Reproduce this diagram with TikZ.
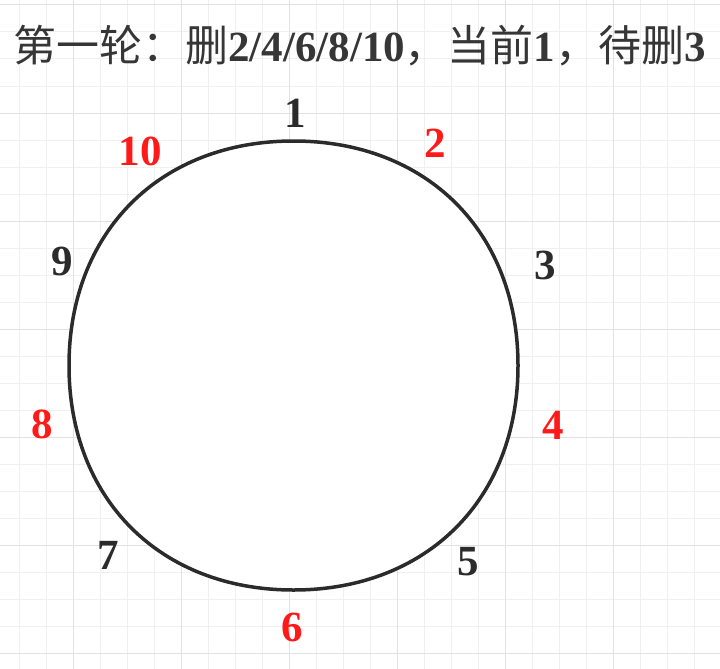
\documentclass[tikz,border=0pt]{standalone}
\usepackage{fontspec}
\setmainfont{Liberation Serif}
\newfontfamily\cjk{Noto Sans CJK SC}
\usepackage{tikz}

\definecolor{gridminor}{HTML}{F0F0F0}
\definecolor{gridmajor}{HTML}{E2E2E2}
\definecolor{ink}{HTML}{2B2B2B}
\definecolor{delred}{HTML}{FF1A1A}

\tikzset{
	num/.style={inner sep=0pt, font=\fontsize{43}{50}\selectfont\bfseries, text=ink},
	deleted/.style={num, text=delred},
}

\begin{document}
\begin{tikzpicture}[x=1pt,y=-1pt]
					\useasboundingbox (0,0) rectangle (720,669);
					% grid
					\foreach \x in {19,46,...,694} \draw[gridminor, line width=1pt] (\x,0) -- (\x,669);
					\foreach \y in {5,32,...,653} \draw[gridminor, line width=1pt] (0,\y) -- (720,\y);
					\foreach \x in {73,181,...,613} \draw[gridmajor, line width=1pt] (\x,0) -- (\x,669);
					\foreach \y in {5,113,...,653} \draw[gridmajor, line width=1pt] (0,\y) -- (720,\y);
					% ring
					\draw[ink, line width=3.5pt, fill=white] (293.5,141) .. controls (160,141) and (69,232) .. (69,365.5)
						.. controls (69,499) and (160,590) .. (293.5,590)
						.. controls (427,590) and (518,499) .. (518,365.5)
						.. controls (518,232) and (427,141) .. (293.5,141) -- cycle;
					% lables
					\node[num] (n1) at (295,113) {1};
					\node[deleted] (n2) at (435,143) {2};
					\node[num] (n3) at (545,265) {3};
					\node[deleted] (n4) at (553,425) {4};
					\node[num] (n5) at (468,562) {5};
					\node[deleted] (n6) at (292,627) {6};
					\node[num] (n7) at (108,555) {7};
					\node[deleted] (n8) at (42,424) {8};
					\node[num] (n9) at (62,261) {9};
					\node[deleted] (n10) at (140,151) {10};
					% title
					\node[anchor=base west, inner sep=0pt, font=\fontsize{43}{50}\selectfont, text=ink!95!white] (title) at (13,62)
						{{\cjk 第一轮：删}\textbf{2/4/6/8/10}{\cjk ，当前}\textbf{1}{\cjk ，待删}\textbf{3}};
				\end{tikzpicture}
\end{document}
